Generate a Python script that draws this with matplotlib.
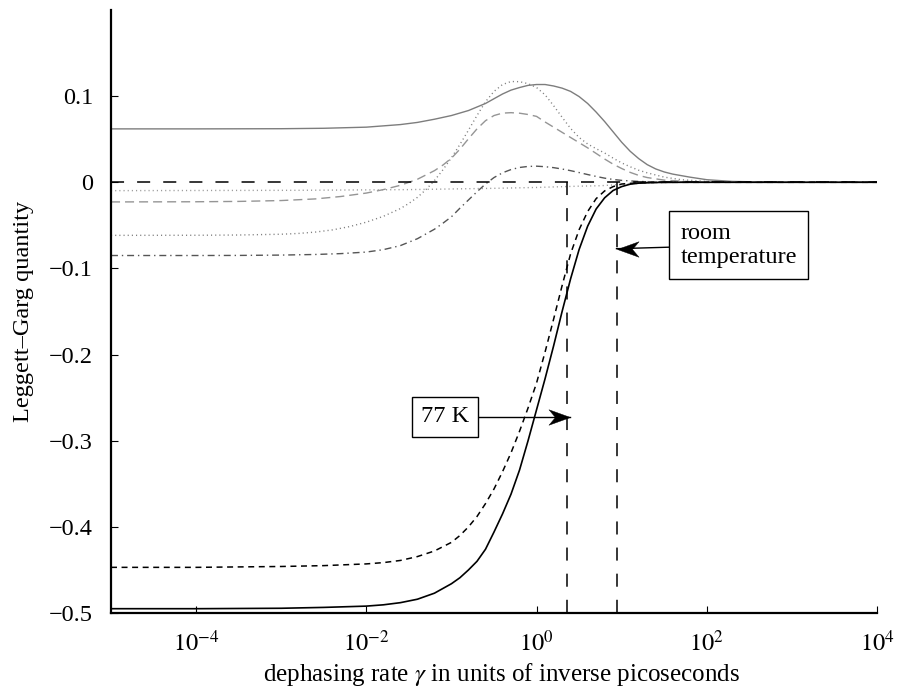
import numpy as np
import matplotlib
matplotlib.use("Agg")
import matplotlib.pyplot as plt

################################################################################
############################### Data ###########################################
################################################################################
# all x values are log10(gamma)

# black solid
lg_black = [-5, -4, -3, -2.5, -2.0, -1.8, -1.6, -1.4, -1.2, -1.1, -1.0, -0.9,
            -0.8, -0.7, -0.6, -0.5, -0.4, -0.3, -0.2, -0.1, 0.0, 0.1, 0.2, 0.3,
            0.4, 0.5, 0.6, 0.7, 0.8, 0.9, 1.0, 1.1, 1.2, 1.4, 1.7, 4]
y_black = [-0.495, -0.495, -0.4945, -0.4935, -0.492, -0.4905, -0.488, -0.484,
           -0.477, -0.4715, -0.466, -0.459, -0.450, -0.440, -0.426, -0.406,
           -0.385, -0.362, -0.334, -0.300, -0.264, -0.228, -0.190, -0.150,
           -0.112, -0.078, -0.051, -0.031, -0.018, -0.0095, -0.005, -0.0022,
           -0.001, -0.0002, 0, 0]

# black short dashed
lg_bdash = [-5, -4, -3, -2.5, -2.0, -1.8, -1.6, -1.4, -1.2, -1.0, -0.9, -0.8,
            -0.7, -0.6, -0.5, -0.4, -0.3, -0.2, -0.1, 0.0, 0.1, 0.2, 0.3, 0.4,
            0.5, 0.6, 0.7, 0.8, 0.9, 1.0, 1.2, 1.5, 4]
y_bdash = [-0.447, -0.447, -0.446, -0.445, -0.443, -0.4415, -0.439, -0.4345,
           -0.428, -0.418, -0.410, -0.400, -0.388, -0.373, -0.356, -0.336,
           -0.314, -0.289, -0.262, -0.233, -0.197, -0.159, -0.120, -0.083,
           -0.055, -0.034, -0.019, -0.010, -0.005, -0.002, -0.0005, 0, 0]

# grey solid
lg_gsolid = [-5, -4, -3, -2.5, -2.0, -1.6, -1.4, -1.2, -1.0, -0.8, -0.6, -0.5,
             -0.4, -0.3, -0.2, -0.1, 0.0, 0.1, 0.2, 0.3, 0.4, 0.5, 0.6, 0.7,
             0.8, 0.9, 1.0, 1.1, 1.2, 1.3, 1.4, 1.5, 1.6, 1.8, 2.0, 2.3, 2.7,
             3.2, 4]
y_gsolid = [0.062, 0.062, 0.0622, 0.0627, 0.064, 0.067, 0.0695, 0.0732,
            0.0775, 0.0833, 0.0915, 0.097, 0.1025, 0.107, 0.110, 0.1125,
            0.1135, 0.1135, 0.1118, 0.1093, 0.1055, 0.0995, 0.0915, 0.0815,
            0.0705, 0.0585, 0.0465, 0.036, 0.0275, 0.0205, 0.0155, 0.012,
            0.0095, 0.006, 0.003, 0.001, 0.0003, 0, 0]

# grey dotted (the one with the big bump)
lg_gdot = [-5, -4, -3.5, -3.0, -2.8, -2.6, -2.4, -2.2, -2.0, -1.8, -1.6, -1.5,
           -1.4, -1.3, -1.2, -1.1, -1.0, -0.9, -0.8, -0.7, -0.6, -0.5, -0.4,
           -0.3, -0.2, -0.1, 0.0, 0.1, 0.2, 0.3, 0.4, 0.5, 0.6, 0.7, 0.8, 0.9,
           1.0, 1.1, 1.2, 1.3, 1.5, 1.7, 2.0, 2.5, 4]
y_gdot = [-0.0616, -0.0615, -0.0612, -0.0603, -0.0594, -0.0578, -0.0553,
          -0.0515, -0.0463, -0.0395, -0.0305, -0.0245, -0.0175, -0.0085,
          0.002, 0.0145, 0.0285, 0.044, 0.0605, 0.0775, 0.0935, 0.1055,
          0.1135, 0.117, 0.1168, 0.1145, 0.110, 0.1015, 0.089, 0.0755,
          0.0625, 0.052, 0.0445, 0.039, 0.034, 0.028, 0.0225, 0.018, 0.014,
          0.011, 0.006, 0.003, 0.001, 0, 0]

# grey dashed
lg_gdash = [-5, -4, -3.5, -3.0, -2.6, -2.3, -2.0, -1.8, -1.6, -1.4, -1.2, -1.1,
            -1.0, -0.9, -0.8, -0.7, -0.6, -0.5, -0.4, -0.3, -0.2, -0.1, 0.0,
            0.1, 0.2, 0.3, 0.4, 0.5, 0.6, 0.7, 0.8, 0.9, 1.0, 1.1, 1.2, 1.3,
            1.5, 1.8, 2.2, 4]
y_gdash = [-0.0228, -0.0226, -0.0222, -0.0212, -0.0193, -0.0165, -0.0125,
           -0.0085, -0.0035, 0.0035, 0.0135, 0.020, 0.028, 0.0385, 0.0505,
           0.062, 0.0715, 0.0775, 0.0803, 0.0808, 0.0802, 0.0787, 0.0765,
           0.070, 0.064, 0.058, 0.052, 0.046, 0.040, 0.0335, 0.027, 0.021,
           0.016, 0.0115, 0.008, 0.0055, 0.0025, 0.0008, 0, 0]

# grey dotted, nearly flat
lg_gflat = [-5, -2.78, -1.5, -0.5, 0.0, 0.5, 0.75, 1.0, 1.15, 1.3, 1.6, 4]
y_gflat = [-0.0097, -0.0093, -0.0085, -0.007, -0.006, -0.0045, -0.004,
           -0.0025, -0.0015, -0.0007, 0, 0]

# dark grey dash-dot
lg_dashdot = [-5, -4, -3.5, -3.0, -2.6, -2.3, -2.0, -1.8, -1.6, -1.4, -1.2,
              -1.1, -1.0, -0.9, -0.8, -0.7, -0.6, -0.5, -0.4, -0.3, -0.2, -0.1,
              0.0, 0.1, 0.2, 0.3, 0.4, 0.5, 0.6, 0.7, 0.8, 0.9, 1.0, 1.2, 1.5,
              2.0, 4]
y_dashdot = [-0.085, -0.085, -0.0849, -0.0845, -0.0838, -0.0828, -0.081,
             -0.0782, -0.0735, -0.0655, -0.0545, -0.0475, -0.040, -0.030,
             -0.0205, -0.011, -0.002, 0.0055, 0.011, 0.0148, 0.0172, 0.0184,
             0.0187, 0.0181, 0.017, 0.0154, 0.0135, 0.0113, 0.009, 0.0068,
             0.0048, 0.0033, 0.0022, 0.001, 0.0003, 0, 0]

# the two marked dephasing rates
gamma_77K = 2.3
gamma_room = 8.9

yticks = [0.1, 0, -0.1, -0.2, -0.3, -0.4, -0.5]
yticklabels = ["0.1", "0", "\u22120.1", "\u22120.2", "\u22120.3", "\u22120.4",
               "\u22120.5"]
xticks = [1e-4, 1e-2, 1e0, 1e2, 1e4]
xticklabels = ["$10^{-4}$", "$10^{-2}$", "$10^{0}$", "$10^{2}$", "$10^{4}$"]

################################################################################
############################### Style ##########################################
################################################################################
plt.rcParams["font.family"] = "serif"
plt.rcParams["font.serif"] = ["Liberation Serif", "DejaVu Serif"]
plt.rcParams["mathtext.fontset"] = "stix"
plt.rcParams["lines.scale_dashes"] = False  # dash lengths in points

fig = plt.figure(figsize=(8.97, 6.89), dpi=100)
ax = fig.add_axes([0.12375, 0.1103, 0.85396, 0.87518])

def lg(a):
    return 10 ** np.array(a)

################################################################################
############################### Curves #########################################
################################################################################
ax.plot(lg(lg_gsolid), y_gsolid, color="#7d7d7d", lw=1.0)
ax.plot(lg(lg_gdot), y_gdot, color="#808080", lw=1.0, dashes=(0.8, 2.2))
ax.plot(lg(lg_gdash), y_gdash, color="#959595", lw=1.0, dashes=(6.5, 3.6))
ax.plot(lg(lg_gflat), y_gflat, color="#9a9a9a", lw=1.0, dashes=(0.8, 2.2))
ax.plot(lg(lg_dashdot), y_dashdot, color="#555555", lw=1.0,
        dashes=(5, 2.8, 1, 2.8))

# zero line
ax.plot([1e-5, 1e4], [0, 0], color="black", lw=1.1, dashes=(9.4, 9.4))

ax.plot(lg(lg_bdash), y_bdash, color="black", lw=1.1, dashes=(4.3, 3.3))
ax.plot(lg(lg_black), y_black, color="black", lw=1.2)

# vertical markers
for g in [gamma_77K, gamma_room]:
    ax.plot([g, g], [0, -0.5], color="black", lw=1.1, dashes=(9.4, 9.4))

################################################################################
############################### Labels #########################################
################################################################################
# stealth-like arrow head as a custom marker, tip at (0,0)
head_r = [(0, 0), (-1, 0.36), (-0.7, 0), (-1, -0.36), (0, 0)]
head_l = [(-x, y) for x, y in head_r]

def label_arrow(text, xy_text, tip, head, pad):
    ax.plot([xy_text[0], tip[0]], [xy_text[1], tip[1]], color="black",
            lw=1.0, zorder=4)
    ax.plot([tip[0]], [tip[1]], marker=head, ms=31, color="black",
            mec="black", mew=0.3, zorder=4)
    ax.text(xy_text[0], xy_text[1], text, fontsize=17.5, ha="center",
            va="center", multialignment="left", zorder=5,
            bbox=dict(boxstyle="square,pad=%g" % pad, fc="white", ec="black",
                      lw=1.0))

label_arrow("77 K", (0.084, -0.2723), (2.45, -0.2723), head_r, 0.38)
label_arrow("room\ntemperature", (236.6, -0.073), (8.7, -0.0771), head_l, 0.47)

################################################################################
############################### Axes ###########################################
################################################################################
ax.set_xscale("log")
ax.set_xlim(1e-5, 1e4)
ax.set_ylim(-0.5, 0.2)
ax.set_xticks(xticks)
ax.set_xticklabels(xticklabels)
ax.xaxis.set_minor_locator(matplotlib.ticker.NullLocator())
ax.set_yticks(yticks)
ax.set_yticklabels(yticklabels)

for s in ["top", "right"]:
    ax.spines[s].set_visible(False)
for s in ["left", "bottom"]:
    ax.spines[s].set_linewidth(1.6)

ax.tick_params(axis="both", direction="in", length=5, width=0.8,
               labelsize=17.5)
ax.tick_params(axis="x", pad=13)
ax.tick_params(axis="y", pad=13)

ax.set_xlabel(r"dephasing rate $\gamma$ in units of inverse picoseconds",
              fontsize=18)
ax.set_ylabel("Leggett\u2013Garg quantity", fontsize=17.5)
ax.xaxis.set_label_coords(0.51, -0.079)
ax.yaxis.set_label_coords(-0.1005, 0.5)

fig.savefig("out.png", dpi=100)
